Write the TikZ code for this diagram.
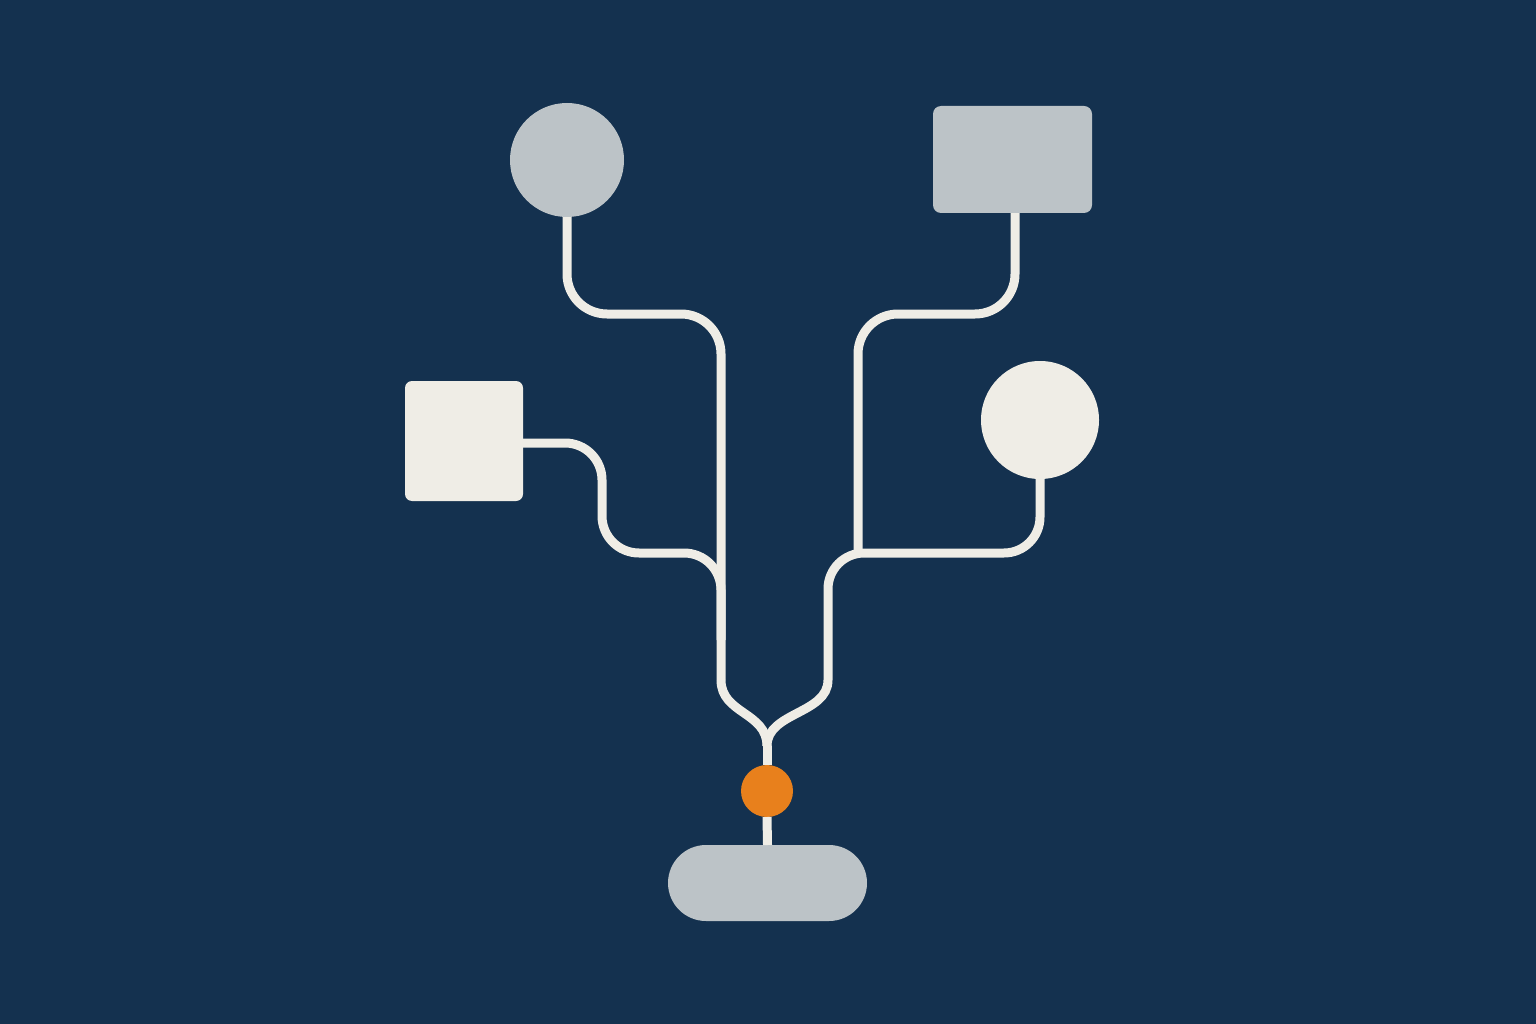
\documentclass[tikz,border=0pt]{standalone}
\usepackage{tikz}

\definecolor{navy}{HTML}{14314F}
\definecolor{stone}{HTML}{BCC3C7}
\definecolor{cream}{HTML}{EFEDE6}
\definecolor{amber}{HTML}{E8801C}

\tikzset{
    blob/.style={inner sep=0pt, outer sep=0pt, draw=none},
    graydisc/.style={blob, circle, fill=stone, minimum size=114pt},
    creamdisc/.style={blob, circle, fill=cream, minimum size=118pt},
    graybox/.style={blob, rectangle, rounded corners=8pt, fill=stone, minimum width=159pt, minimum height=107pt},
    creambox/.style={blob, rectangle, rounded corners=7pt, fill=cream, minimum width=118pt, minimum height=120pt},
    hubdot/.style={blob, circle, fill=amber, minimum size=52pt},
    pill/.style={blob, rectangle, rounded corners=38pt, fill=stone, minimum width=199pt, minimum height=76pt},
    wire/.style={draw=cream, line width=9pt}
}

\begin{document}
\begin{tikzpicture}[x=1pt, y=-1pt]
    % Background and page size
    \fill [navy] (0,0) rectangle (1536,1024);
    \useasboundingbox (0,0) rectangle (1536,1024);

    % Junction points
    \coordinate (leftbend) at (721,680);
    \coordinate (rightbend) at (828,680);
    \coordinate (merge) at (767,746);

    % Wires first, so the shapes sit on top
    \draw [wire, rounded corners=40pt] (567,200) -- (567,314) -- (721,314) -- (leftbend);
    \draw [wire, rounded corners=37pt] (510,443) -- (602,443) -- (602,553) -- (721,553) -- (721,640);
    \draw [wire, rounded corners=40pt] (1015,200) -- (1015,314) -- (858,314) -- (858,553);
    \draw [wire, rounded corners=36pt] (1040,460) -- (1040,553) -- (828,553) -- (rightbend);

    % The two trunks meet above the hub
    \draw [wire] (leftbend) .. controls (721,714) and (767,712) .. (merge);
    \draw [wire] (rightbend) .. controls (828,714) and (767,712) .. (merge);

    % Sources
    \node [graydisc] (topleft) at (567,160) {};
    \node [graybox] (topright) at (1012.5,159.5) {};
    \node [creambox] (midleft) at (464,441) {};
    \node [creamdisc] (midright) at (1040,420) {};

    % Hub and sink
    \node [hubdot] (hub) at (767,791) {};
    \node [pill] (sink) at (767.5,883) {};
    \draw [wire] (merge) -- (hub.north);
    \draw [wire] (hub.south) -- (sink.north);
\end{tikzpicture}
\end{document}
